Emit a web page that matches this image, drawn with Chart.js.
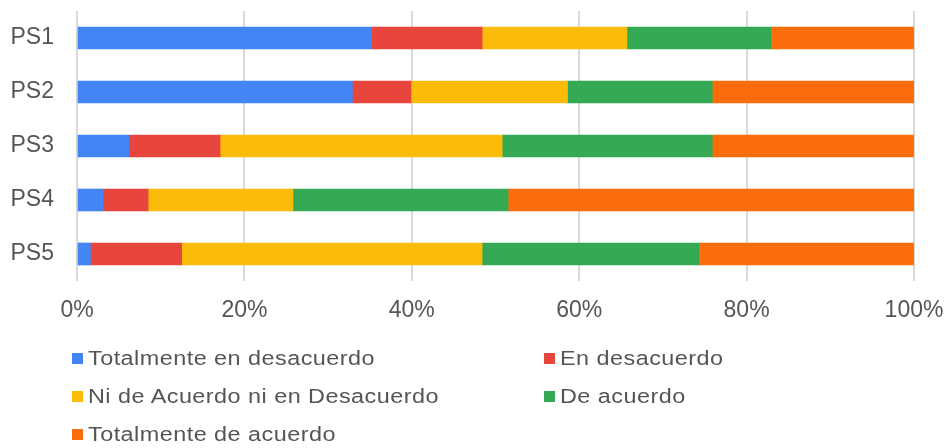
<!DOCTYPE html>
<html lang="es">
<head>
<meta charset="utf-8">
<title>Respuestas PS1–PS5</title>
<script src="https://cdn.jsdelivr.net/npm/chart.js@4.4.1/dist/chart.umd.min.js"></script>
<style>
  html, body { margin: 0; padding: 0; background: #ffffff; }
  #wrap { position: relative; width: 948px; height: 448px; overflow: hidden; }
  #chart { position: absolute; left: 0; top: 0; }
  .legend-item {
    position: absolute;
    height: 24px;
    display: flex;
    align-items: center;
    white-space: nowrap;
  }
  .legend-item .swatch {
    width: 11px; height: 11px; margin-right: 5px; flex: none;
  }
  .legend-item .label {
    display: inline-block;
    font-family: "Liberation Sans", Arial, sans-serif;
    font-size: 20px;
    letter-spacing: 0.4px;
    color: #555555;
    transform: scaleX(1.17);
    transform-origin: left center;
  }
</style>
</head>
<body>
<div id="wrap">
  <canvas id="chart" width="948" height="448"></canvas>
  <div id="legend"></div>
</div>
<script>
// Items on the vertical axis
const categories = ["PS1", "PS2", "PS3", "PS4", "PS5"];

// Answer options (stack order, left to right)
const seriesNames = [
  "Totalmente en desacuerdo",
  "En desacuerdo",
  "Ni de Acuerdo ni en Desacuerdo",
  "De acuerdo",
  "Totalmente de acuerdo"
];

// Share of answers per item, in percent
const totalmenteEnDesacuerdo = [35.2, 32.9, 6.2, 3.1, 1.6];
const enDesacuerdo           = [13.2, 7.0, 10.9, 5.4, 10.9];
const niDeAcuerdo            = [17.3, 18.7, 33.7, 17.3, 35.9];
const deAcuerdo              = [17.2, 17.3, 25.1, 25.7, 25.9];
const totalmenteDeAcuerdo    = [17.1, 24.1, 24.1, 48.5, 25.7];

// Horizontal axis ticks
const xTicks = [0, 20, 40, 60, 80, 100];

const colors = ["#4285f4", "#e8453c", "#fbbc09", "#34a853", "#fb6d0a"];
const seriesValues = [totalmenteEnDesacuerdo, enDesacuerdo, niDeAcuerdo, deAcuerdo, totalmenteDeAcuerdo];

const datasets = seriesNames.map((name, i) => ({
  label: name,
  data: seriesValues[i],
  backgroundColor: colors[i],
  borderWidth: 0,
  barThickness: 22
}));

const axisFont = { family: "'Liberation Sans', Arial, sans-serif", size: 23 };
const textColor = "#555555";

// Keep the plot area fixed: no extra room reserved for label overhang
function noOverhang(scale) {
  scale.paddingTop = 0;
  scale.paddingBottom = 0;
  scale.paddingLeft = 0;
  scale.paddingRight = 0;
}

new Chart(document.getElementById("chart"), {
  type: "bar",
  data: { labels: categories, datasets },
  options: {
    indexAxis: "y",
    responsive: false,
    animation: false,
    devicePixelRatio: 1,
    layout: { padding: { top: 11, right: 34, bottom: 127, left: 0 } },
    plugins: {
      legend: { display: false },
      tooltip: { enabled: false }
    },
    scales: {
      x: {
        stacked: true,
        min: 0,
        max: 100,
        afterBuildTicks: (scale) => { scale.ticks = xTicks.map(v => ({ value: v })); },
        ticks: {
          callback: (v) => v + "%",
          font: axisFont,
          color: textColor,
          padding: 16,
          maxRotation: 0
        },
        grid: { color: "#d9d9d9", lineWidth: 2, drawTicks: false },
        border: { display: false },
        afterFit: (scale) => { scale.height = 40; noOverhang(scale); }
      },
      y: {
        stacked: true,
        ticks: { font: axisFont, color: textColor, padding: 23 },
        grid: { display: false, drawTicks: false },
        border: { display: false },
        afterFit: (scale) => { scale.width = 77; noOverhang(scale); }
      }
    }
  }
});

// Two-column legend below the chart
const legendSlots = [
  { left: 72, top: 346 }, { left: 544, top: 346 },
  { left: 72, top: 384 }, { left: 544, top: 384 },
  { left: 72, top: 422 }
];
const legendBox = document.getElementById("legend");
seriesNames.forEach((name, i) => {
  const item = document.createElement("div");
  item.className = "legend-item";
  item.style.left = legendSlots[i].left + "px";
  item.style.top = legendSlots[i].top + "px";
  const sw = document.createElement("span");
  sw.className = "swatch";
  sw.style.background = colors[i];
  const tx = document.createElement("span");
  tx.className = "label";
  tx.textContent = name;
  item.appendChild(sw);
  item.appendChild(tx);
  legendBox.appendChild(item);
});
</script>
</body>
</html>
